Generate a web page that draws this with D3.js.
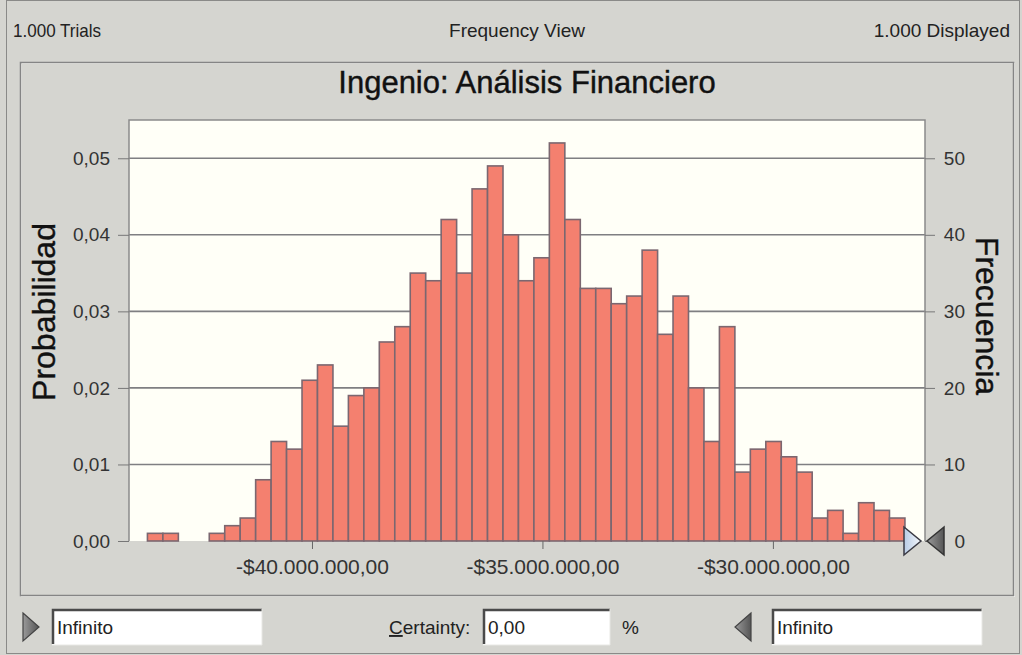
<!DOCTYPE html>
<meta charset="utf-8">
<style type="text/css">
  body {
    margin: 0;
    background: #d5d5d0;
    font-family: "Liberation Sans", Arial, sans-serif;
  }
</style>
<body>
</body>
<script src="https://d3js.org/d3.v7.min.js"></script>
<script>
  // histogram data
  var trials = 1000;
  var counts = [1, 1, 0, 0, 1, 2, 3, 8, 13, 12, 21, 23, 15, 19, 20, 26,
    28, 35, 34, 42, 35, 46, 49, 40, 34, 37, 52, 42, 33, 33, 31, 32, 38,
    27, 32, 20, 13, 28, 9, 12, 13, 11, 9, 3, 4, 1, 5, 4, 3];
  var binStart = -43.57e6;
  var binWidth = 0.3354e6;
  var xTicks = [-40e6, -35e6, -30e6];
  var probTicks = [0, 0.01, 0.02, 0.03, 0.04, 0.05];
  var freqTicks = [0, 10, 20, 30, 40, 50];

  var W = 1022,
    H = 655;
  var plot = {
    left: 129,
    right: 925,
    top: 120,
    bottom: 541
  };

  var loc = d3.formatLocale({
    decimal: ",",
    thousands: ".",
    grouping: [3],
    currency: ["$", ""],
    minus: "-"
  });

  var x = d3.scaleLinear()
    .domain([-43.97e6, -26.70e6])
    .range([plot.left, plot.right]);
  var yProb = d3.scaleLinear().domain([0, 0.055]).range([plot.bottom, plot.top]);
  var yFreq = d3.scaleLinear().domain([0, 55]).range([plot.bottom, plot.top]);

  var svg = d3.select("body").append("svg")
    .attr("width", W)
    .attr("height", H);

  // window frame
  svg.append("rect")
    .attr("x", 6.5).attr("y", 0.5)
    .attr("width", 1013).attr("height", 653)
    .style("fill", "#d5d5d0")
    .style("stroke", "#8a8a88");

  // top status line
  var statusBar = svg.append("g")
    .style("font-size", "19px")
    .style("fill", "#222");
  statusBar.append("text").attr("x", 13).attr("y", 37)
    .attr("textLength", 88).attr("lengthAdjust", "spacingAndGlyphs")
    .text("1.000 Trials");
  statusBar.append("text").attr("x", 517).attr("y", 37).attr("text-anchor", "middle").text("Frequency View");
  statusBar.append("text").attr("x", 1010).attr("y", 37).attr("text-anchor", "end").text("1.000 Displayed");

  // chart panel (sunken)
  svg.append("rect")
    .attr("x", 21.5).attr("y", 63.5)
    .attr("width", 993).attr("height", 533)
    .style("fill", "none")
    .style("stroke", "#f2f2ee")
    .style("stroke-width", 1);
  svg.append("rect")
    .attr("x", 20.5).attr("y", 62.5)
    .attr("width", 993).attr("height", 533)
    .style("fill", "none")
    .style("stroke", "#858585")
    .style("stroke-width", 1.5);

  svg.append("text")
    .attr("x", 527)
    .attr("y", 93)
    .attr("text-anchor", "middle")
    .style("font-size", "31px")
    .style("fill", "#111")
    .style("stroke", "#111")
    .style("stroke-width", 0.4)
    .text("Ingenio: Análisis Financiero");

  // plot background
  svg.append("rect")
    .attr("x", plot.left).attr("y", plot.top)
    .attr("width", plot.right - plot.left)
    .attr("height", plot.bottom - plot.top)
    .style("fill", "#fffff7");

  // gridlines
  svg.append("g").selectAll("line")
    .data(probTicks.filter(function(d) { return d > 0; }))
    .enter().append("line")
    .attr("x1", plot.left).attr("x2", plot.right)
    .attr("y1", function(d) { return yProb(d); })
    .attr("y2", function(d) { return yProb(d); })
    .style("stroke", "#7f7f82")
    .style("stroke-width", 1.6);

  // bars
  svg.append("g").selectAll("rect")
    .data(counts.map(function(c, i) {
      return { x0: binStart + i * binWidth, x1: binStart + (i + 1) * binWidth, n: c };
    }).filter(function(d) { return d.n > 0; }))
    .enter().append("rect")
    .attr("x", function(d) { return x(d.x0); })
    .attr("width", function(d) { return x(d.x1) - x(d.x0); })
    .attr("y", function(d) { return yProb(d.n / trials); })
    .attr("height", function(d) { return plot.bottom - yProb(d.n / trials); })
    .style("fill", "#f4806f")
    .style("stroke", "#7b6770")
    .style("stroke-width", 1.6);

  // plot border
  svg.append("path")
    .attr("d", "M" + plot.left + "," + plot.bottom + "V" + plot.top + "H" + plot.right + "V" + plot.bottom)
    .style("fill", "none")
    .style("stroke", "#8a8a8a")
    .style("stroke-width", 1.5);

  // left axis
  var gl = svg.append("g")
    .attr("transform", "translate(" + plot.left + ",0)")
    .call(d3.axisLeft(yProb).tickValues(probTicks).tickFormat(loc.format(".2f")).tickSize(11).tickPadding(8));
  gl.select(".domain").remove();
  gl.selectAll("line").style("stroke", "#777");
  gl.selectAll("text").style("font-size", "19px").style("fill", "#333").style("font-family", "Liberation Sans, Arial, sans-serif");

  // right axis
  var gr = svg.append("g")
    .attr("transform", "translate(" + plot.right + ",0)")
    .call(d3.axisRight(yFreq).tickValues(freqTicks).tickSize(10).tickPadding(8));
  gr.select(".domain").remove();
  gr.selectAll("line").style("stroke", "#777");
  gr.selectAll("text")
    .attr("x", 40)
    .attr("text-anchor", "end")
    .style("font-size", "19px").style("fill", "#333").style("font-family", "Liberation Sans, Arial, sans-serif");

  // bottom axis
  var gb = svg.append("g")
    .attr("transform", "translate(0," + plot.bottom + ")")
    .call(d3.axisBottom(x).tickValues(xTicks).tickFormat(loc.format("$,.2f")).tickSize(8).tickPadding(10));
  gb.select(".domain").remove();
  gb.selectAll("line").style("stroke", "#666");
  gb.selectAll("text").style("font-size", "21px").style("fill", "#333").style("font-family", "Liberation Sans, Arial, sans-serif");

  // axis titles
  svg.append("text")
    .attr("transform", "translate(55,312) rotate(-90)")
    .attr("text-anchor", "middle")
    .style("font-size", "32px")
    .style("fill", "#111")
    .style("stroke", "#111")
    .style("stroke-width", 0.4)
    .text("Probabilidad");
  svg.append("text")
    .attr("transform", "translate(976,316) rotate(90)")
    .attr("text-anchor", "middle")
    .style("font-size", "32px")
    .style("fill", "#111")
    .style("stroke", "#111")
    .style("stroke-width", 0.4)
    .text("Frecuencia");

  // grabber triangles at the right end
  var defs = svg.append("defs");
  var gLight = defs.append("linearGradient").attr("id", "tri-light").attr("x1", 0).attr("x2", 1);
  gLight.append("stop").attr("offset", 0).attr("stop-color", "#b8cce6");
  gLight.append("stop").attr("offset", 1).attr("stop-color", "#f4f7fb");
  var gDark = defs.append("linearGradient").attr("id", "tri-dark").attr("x1", 0).attr("x2", 1);
  gDark.append("stop").attr("offset", 0).attr("stop-color", "#9a9a9a");
  gDark.append("stop").attr("offset", 1).attr("stop-color", "#555");

  svg.append("path")
    .attr("d", "M904,527L921,541L904,555Z")
    .style("fill", "url(#tri-light)")
    .style("stroke", "#3a3a44")
    .style("stroke-width", 1.5);
  svg.append("path")
    .attr("d", "M944,527L927,541L944,555Z")
    .style("fill", "url(#tri-dark)")
    .style("stroke", "#333")
    .style("stroke-width", 1.5);

  // bottom controls
  function textBox(x0, w, label) {
    var g = svg.append("g");
    g.append("rect")
      .attr("x", x0).attr("y", 609)
      .attr("width", w).attr("height", 36)
      .style("fill", "#fff");
    g.append("path")
      .attr("d", "M" + (x0 + 1) + ",644V610H" + (x0 + w))
      .style("fill", "none")
      .style("stroke", "#4a4a4a")
      .style("stroke-width", 2.5);
    g.append("path")
      .attr("d", "M" + x0 + ",645H" + (x0 + w) + "V609")
      .style("fill", "none")
      .style("stroke", "#e8e8e4")
      .style("stroke-width", 1);
    g.append("text")
      .attr("x", x0 + 5).attr("y", 634)
      .style("font-size", "19px")
      .style("fill", "#222")
      .text(label);
  }

  svg.append("path")
    .attr("d", "M23,613L39,627L23,641Z")
    .style("fill", "url(#tri-dark)")
    .style("stroke", "#444")
    .style("stroke-width", 1.2);
  textBox(52, 210, "Infinito");

  var cert = svg.append("text")
    .attr("x", 389).attr("y", 634)
    .style("font-size", "19px")
    .style("fill", "#222");
  cert.append("tspan").style("text-decoration", "underline").text("C");
  cert.append("tspan").text("ertainty:");
  textBox(483, 127, "0,00");
  svg.append("text")
    .attr("x", 622).attr("y", 634)
    .style("font-size", "19px")
    .style("fill", "#222")
    .text("%");

  svg.append("path")
    .attr("d", "M751,613L735,627L751,641Z")
    .style("fill", "url(#tri-dark)")
    .style("stroke", "#444")
    .style("stroke-width", 1.2);
  textBox(772, 210, "Infinito");
</script>
